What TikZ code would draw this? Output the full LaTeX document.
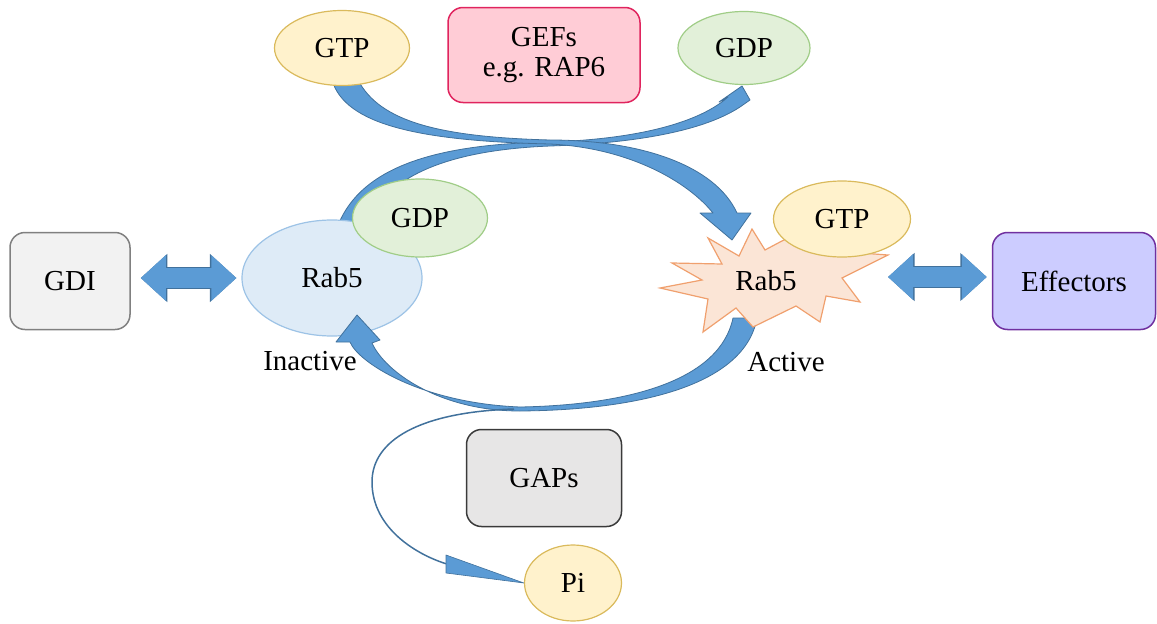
\documentclass[tikz,border=0pt]{standalone}
\usepackage{fontspec}
\setmainfont{Liberation Serif}
\usetikzlibrary{shapes.geometric, arrows.meta, calc, positioning}
\definecolor{myblue}{RGB}{91,155,213}
\definecolor{myblueedge}{RGB}{65,113,156}
\definecolor{ylwfill}{RGB}{255,242,204}
\definecolor{ylwedge}{RGB}{218,186,92}
\definecolor{grnfill}{RGB}{226,240,217}
\definecolor{grnedge}{RGB}{160,205,135}
\definecolor{pinkfill}{RGB}{255,204,214}
\definecolor{pinkedge}{RGB}{224,36,94}
\definecolor{bluefill}{RGB}{222,235,247}
\definecolor{blueedge}{RGB}{157,195,230}
\definecolor{orgfill}{RGB}{251,229,214}
\definecolor{orgedge}{RGB}{240,160,110}
\definecolor{gdifill}{RGB}{242,242,242}
\definecolor{gdiedge}{RGB}{128,128,128}
\definecolor{gapfill}{RGB}{231,230,230}
\definecolor{gapedge}{RGB}{58,58,58}
\definecolor{efffill}{RGB}{204,204,255}
\definecolor{effedge}{RGB}{112,48,160}
\tikzset{
  bigfont/.style={font=\fontsize{29}{30}\selectfont},
  molnode/.style={ellipse, draw, line width=1.2pt, inner sep=0pt, bigfont},
  gtpnode/.style={molnode, draw=ylwedge, fill=ylwfill},
  gdpnode/.style={molnode, draw=grnedge, fill=grnfill},
  boxnode/.style={rectangle, rounded corners=15pt, line width=1.5pt,
    align=center, inner sep=0pt, bigfont},
  bandarrow/.style={fill=myblue, draw=myblueedge, line width=0.8pt, line join=round},
  thinline/.style={draw=myblueedge, line width=1.5pt},
  fatarrow/.style={myblue, line width=20pt,
    {Triangle[width=44pt,length=25pt]}-{Triangle[width=44pt,length=25pt]},
    preaction={draw=myblueedge, line width=21.6pt,
      {Triangle[width=46.5pt,length=26.5pt]}-{Triangle[width=46.5pt,length=26.5pt]}}}
}
\begin{document}
\begin{tikzpicture}[x=1pt, y=-1pt,
  burstshape/.style={draw=orgedge, fill=orgfill, line width=1.2pt, line join=miter}]
  \useasboundingbox (0,0) rectangle (1157,624);

  % Inactive side: arrow to GDP runs behind Rab5
  \draw[bandarrow] (337,228) .. controls (360,165) and (440,144) .. (550,142)
    .. controls (640,139) and (700,122) .. (728,97)
    -- (719,102) -- (742,86) -- (750,100) -- (740,107)
    .. controls (705,130) and (640,143) .. (550,146)
    .. controls (450,150) and (385,175) .. (365,228) -- cycle;
  \node[molnode, draw=blueedge, fill=bluefill, minimum width=180pt, minimum height=116pt]
    (rab5in) at (332,278) {Rab5};
  \node[gdpnode, minimum width=135pt, minimum height=78pt] (gdpin) at (420,218) {GDP};

  % GAPs cycle back to inactive
  \draw[bandarrow] (757,318) .. controls (745,385) and (640,410) .. (520,411)
    .. controls (440,411) and (385,372) .. (372,343)
    -- (380,340) -- (357,315) -- (336,342) -- (350,342)
    .. controls (358,362) and (420,403) .. (520,407)
    .. controls (630,405) and (720,380) .. (733,318) -- cycle;

  % Active side
  \draw[burstshape] (660,288) -- (702,280) -- (672,263) -- (722,264) -- (708,238)
    -- (739,256) -- (752,229) -- (765,250) -- (780,242) -- (800,232) -- (820,250)
    -- (888,255) -- (842,278) -- (860,302) -- (826,296) -- (820,322) -- (796,306)
    -- (753,327) -- (736,308) -- (703,332) -- (708,299) -- cycle;
  \node[bigfont] (rab5act) at (766,281) {Rab5};
  \node[gtpnode, minimum width=137pt, minimum height=76pt] (gtpact) at (842,219) {GTP};

  % GTP in, towards active Rab5
  \draw[bandarrow] (332,80) .. controls (345,125) and (420,141) .. (550,144)
    .. controls (630,148) and (688,182) .. (713,213)
    -- (700,213) -- (732,240) -- (751,213) -- (737,213)
    .. controls (715,165) and (640,140) .. (550,140)
    .. controls (440,137) and (380,122) .. (358,80) -- cycle;

  % Top row
  \node[gtpnode, minimum width=135pt, minimum height=75pt] (gtpin) at (342,48) {GTP};
  \node[boxnode, draw=pinkedge, fill=pinkfill, minimum width=192pt, minimum height=95pt]
    (gefs) at (544,55) {GEFs\\e.g. RAP6};
  \node[gdpnode, minimum width=132pt, minimum height=73pt] (gdpout) at (744,48) {GDP};

  % Pi release
  \node[gtpnode, minimum width=97pt, minimum height=76pt] (pi) at (573,583) {Pi};
  \node[boxnode, draw=gapedge, fill=gapfill, minimum width=155pt, minimum height=97pt]
    (gaps) at (544,478) {GAPs};
  \draw[thinline] (514,409) .. controls (420,412) and (372,440) .. (372,482)
    .. controls (372,530) and (420,556) .. (447,564);
  \draw[bandarrow, line width=0.6pt] (446,555) -- (pi.west) -- (446,573) -- cycle;

  % Side boxes
  \node[boxnode, draw=gdiedge, fill=gdifill, minimum width=120pt, minimum height=97pt]
    (gdi) at (70,281) {GDI};
  \node[boxnode, draw=effedge, fill=efffill, minimum width=163pt, minimum height=97pt]
    (eff) at (1074,281) {Effectors};
  \coordinate (bursttip) at (888,277);
  \draw[fatarrow, shorten <=10pt, shorten >=5pt] (rab5in.west -| gdi.east) -- (rab5in.west);
  \draw[fatarrow, shorten >=5pt] (bursttip) -- (bursttip -| eff.west);

  % Labels
  \node[bigfont] (inact) at (310,361) {Inactive};
  \node[bigfont] (act) at (786,362) {Active};
\end{tikzpicture}
\end{document}
